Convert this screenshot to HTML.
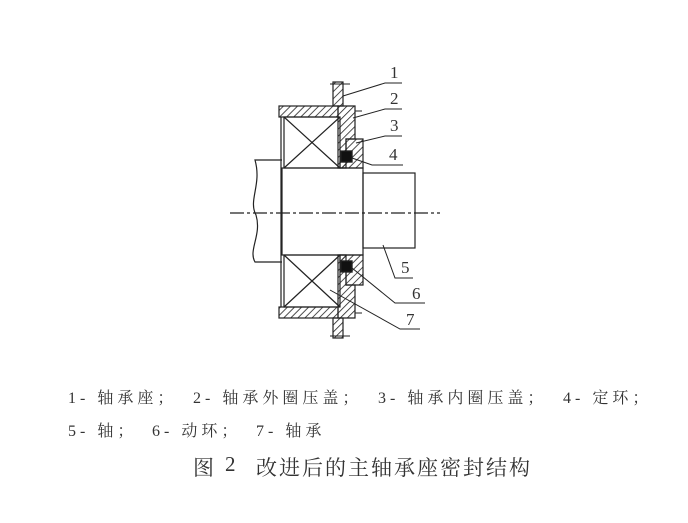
<!DOCTYPE html>
<html><head><meta charset="utf-8"><style>
body{margin:0;background:#fff;width:688px;height:523px;overflow:hidden;position:relative;font-family:"Liberation Serif","Noto Serif CJK SC",serif;color:#333}
.t{position:absolute;white-space:pre;font-size:16px;letter-spacing:4px}
.n{position:absolute;font-size:17px}
</style></head><body>
<svg width="688" height="523" style="position:absolute;left:0;top:0" fill="none" stroke="#222" stroke-width="1.2">
<defs><pattern id="h" width="5" height="5" patternUnits="userSpaceOnUse" patternTransform="rotate(45)"><line x1="0" y1="0" x2="0" y2="5" stroke="#222" stroke-width="1.6"/></pattern></defs>
<path d="M282,160 H255 C262,185 248,200 256,215 C262,235 248,250 255,262 H282"/>
<rect x="282" y="168" width="81" height="87"/>
<rect x="363" y="173" width="52" height="75"/>
<line x1="230" y1="213" x2="440" y2="213" stroke-dasharray="14,3,3,3"/>
<rect x="333" y="82" width="10" height="24" fill="url(#h)"/>
<rect x="333" y="318" width="10" height="20" fill="url(#h)"/>
<rect x="279" y="106" width="59" height="11" fill="url(#h)"/>
<rect x="279" y="307" width="59" height="11" fill="url(#h)"/>
<line x1="281" y1="117" x2="281" y2="307"/>
<rect x="284" y="117" width="56" height="51"/><path d="M284,117 L340,168 M340,117 L284,168"/>
<rect x="284" y="255" width="56" height="52"/><path d="M284,255 L340,307 M340,255 L284,307"/>
<path d="M338,106 H355 V139 H346 V168 H338 Z" fill="url(#h)"/>
<path d="M338,318 H355 V285 H346 V255 H338 Z" fill="url(#h)"/>
<path d="M346,139 H363 V168 H340 V162 H352 V151 H346 Z" fill="url(#h)"/>
<path d="M346,285 H363 V255 H340 V261 H352 V272 H346 Z" fill="url(#h)"/>
<rect x="341" y="151" width="11" height="11" fill="#111"/>
<rect x="341" y="261" width="11" height="11" fill="#111"/>
<path d="M355,111 H362 M355,313 H362 M330,84 H350 M330,336 H350" stroke-width="1"/>
<g stroke-width="1">
<path d="M343,96 L385,83 H402"/>
<path d="M353,118 L385,109 H402"/>
<path d="M356,143 L385,136 H402"/>
<path d="M352,158 L372,165 H403"/>
<path d="M383,245 L395,278 H413"/>
<path d="M352,268 L395,303 H425"/>
<path d="M330,290 L400,329 H420"/>
</g>
</svg>
<div class="n" style="left:390px;top:63px">1</div>
<div class="n" style="left:390px;top:89px">2</div>
<div class="n" style="left:390px;top:116px">3</div>
<div class="n" style="left:389px;top:145px">4</div>
<div class="n" style="left:401px;top:258px">5</div>
<div class="n" style="left:412px;top:284px">6</div>
<div class="n" style="left:406px;top:310px">7</div>
<div class="t" style="left:68px;top:385px">1- 轴承座；</div>
<div class="t" style="left:193px;top:385px">2- 轴承外圈压盖；</div>
<div class="t" style="left:378px;top:385px">3- 轴承内圈压盖；</div>
<div class="t" style="left:563px;top:385px">4- 定环；</div>
<div class="t" style="left:68px;top:418px">5- 轴；</div>
<div class="t" style="left:152px;top:418px">6- 动环；</div>
<div class="t" style="left:256px;top:418px">7- 轴承</div>
<div class="t" style="left:193px;top:452px;font-size:21px;letter-spacing:0">图</div>
<div class="t" style="left:225px;top:452px;font-size:21px;letter-spacing:0">2</div>
<div class="t" style="left:256px;top:452px;font-size:21px;letter-spacing:2px">改进后的主轴承座密封结构</div>
</body></html>
